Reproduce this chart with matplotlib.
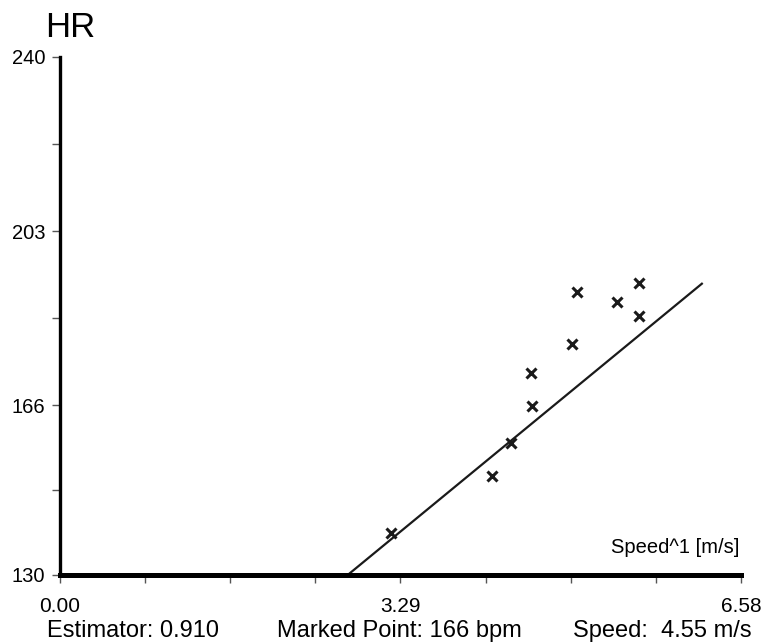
import matplotlib
matplotlib.use('Agg')
from matplotlib import pyplot as plt

plt.rcParams['font.family'] = ['Liberation Sans', 'DejaVu Sans']

# measured points (speed m/s, heart rate bpm)
speed = [3.20, 4.17, 4.36, 4.56, 4.55, 4.95, 5.00, 5.38, 5.59, 5.59]
hr = [138.9, 151.0, 158.0, 165.9, 172.9, 179.0, 190.1, 188.0, 192.0, 185.0]

# regression line end points
line_speed = [2.78, 6.21]
line_hr = [130, 192]

x_ticks = [0.0, 0.8225, 1.645, 2.4675, 3.29, 4.1125, 4.935, 5.7575, 6.58]
x_labels = ['0.00', '', '', '', '3.29', '', '', '', '6.58']
y_ticks = [130, 148, 166, 184.5, 203, 221.5, 240]
y_labels = ['130', '', '166', '', '203', '', '240']

fig = plt.figure(figsize=(7.69, 6.43), dpi=100)
ax = fig.add_axes([0.078, 0.1058, 0.8856, 0.8056])

ax.plot(line_speed, line_hr, color='#1a1a1a', linewidth=1.6, solid_capstyle='butt')
ax.plot(speed, hr, linestyle='none', marker='x', color='#1a1a1a',
        markersize=7, markeredgewidth=2.2)

ax.set_xlim(0, 6.58)
ax.set_ylim(130, 240)
ax.set_xticks(x_ticks)
ax.set_xticklabels(x_labels)
ax.set_yticks(y_ticks)
ax.set_yticklabels(y_labels)

for s in ['top', 'right']:
    ax.spines[s].set_visible(False)
ax.spines['left'].set_linewidth(2.4)
ax.spines['bottom'].set_linewidth(3.6)
ax.spines['bottom'].set_zorder(5)

ax.tick_params(axis='x', length=6, width=1, color='#555555', pad=10, labelsize=15)
ax.tick_params(axis='y', length=5.5, width=1, color='#555555', pad=5, labelsize=14.5)

fig.text(0.0585, 0.9425, 'HR', fontsize=25, ha='left', va='baseline')
ax.text(0.997, 0.035, 'Speed^1 [m/s]', transform=ax.transAxes, fontsize=14.5,
        ha='right', va='bottom')

fig.text(0.061, 0.0095, 'Estimator: 0.910', fontsize=17, ha='left', va='baseline')
fig.text(0.519, 0.0095, 'Marked Point: 166 bpm', fontsize=17, ha='center', va='baseline')
fig.text(0.978, 0.0095, 'Speed:  4.55 m/s', fontsize=17, ha='right', va='baseline')

plt.savefig('out.png', dpi=100)
